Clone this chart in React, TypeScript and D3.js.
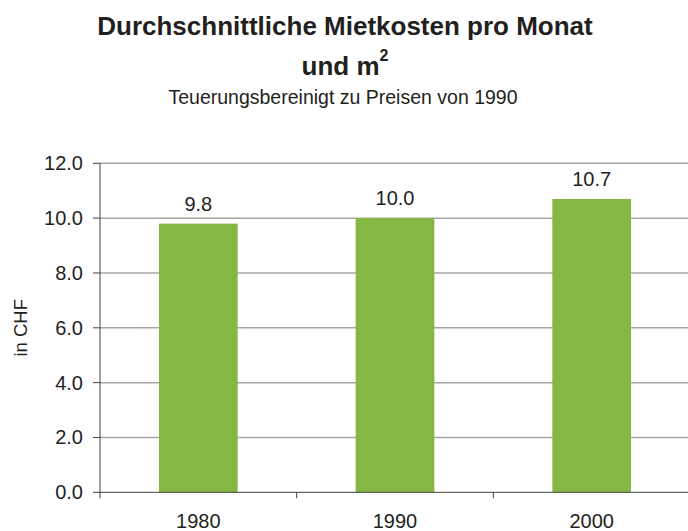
import React from "react";
import * as d3 from "d3";

const categories = ["1980", "1990", "2000"];
const values = [9.8, 10.0, 10.7];
const yTicks = [0, 2, 4, 6, 8, 10, 12];

const W = 688;
const H = 531;
const M = { left: 100, right: 690, top: 163.3, bottom: 492.3 };
const FONT = "'Liberation Sans', Arial, Helvetica, sans-serif";
const TEXT = "#231f20";

export default function App() {
  const x = d3
    .scaleBand<string>()
    .domain(categories)
    .range([M.left, M.right])
    .paddingInner(0.6)
    .paddingOuter(0.3);
  const y = d3.scaleLinear().domain([0, 12]).range([M.bottom, M.top]);
  const step = x.step();
  const boundaries = d3.range(categories.length + 1).map((i) => M.left + i * step);

  return (
    <svg
      width={W}
      height={H}
      style={{ position: "absolute", left: 0, top: 0, background: "#fff" }}
      fontFamily={FONT}
    >
      <rect x={0} y={0} width={W} height={H} fill="#fff" />
      {/* Titles */}
      <text x={345} y={35} textAnchor="middle" fontSize={26} fontWeight="bold" fill={TEXT}>
        Durchschnittliche Mietkosten pro Monat
      </text>
      <text x={345} y={75} textAnchor="middle" fontSize={26} fontWeight="bold" fill={TEXT}>
        und m
        <tspan fontSize={16} dy={-14}>2</tspan>
      </text>
      <text x={343} y={104} textAnchor="middle" fontSize={19.5} fill={TEXT}>
        Teuerungsbereinigt zu Preisen von 1990
      </text>

      {/* Gridlines */}
      {yTicks
        .filter((t) => t > 0)
        .map((t) => (
          <line
            key={"g" + t}
            x1={M.left}
            x2={W}
            y1={y(t)}
            y2={y(t)}
            stroke="#a6a6a6"
            strokeWidth={1.5}
          />
        ))}

      {/* Bars */}
      {categories.map((c, i) => (
        <rect
          key={c}
          x={x(c)}
          y={y(values[i])}
          width={x.bandwidth()}
          height={M.bottom - y(values[i])}
          fill="#84b843"
        />
      ))}

      {/* Value labels */}
      {categories.map((c, i) => (
        <text
          key={"v" + c}
          x={(x(c) as number) + x.bandwidth() / 2}
          y={y(values[i]) - 13}
          textAnchor="middle"
          fontSize={20}
          fill={TEXT}
        >
          {values[i].toFixed(1)}
        </text>
      ))}

      {/* Axes */}
      <line x1={M.left} x2={M.left} y1={M.top} y2={M.bottom} stroke="#404040" strokeWidth={1} />
      <line x1={M.left} x2={W} y1={M.bottom} y2={M.bottom} stroke="#404040" strokeWidth={1} />
      {yTicks.map((t) => (
        <g key={"t" + t}>
          <line x1={M.left - 7} x2={M.left} y1={y(t)} y2={y(t)} stroke="#404040" />
          <text
            x={M.left - 17}
            y={y(t) + 7}
            textAnchor="end"
            fontSize={20}
            fill={TEXT}
          >
            {t.toFixed(1)}
          </text>
        </g>
      ))}
      {boundaries.map((b, i) => (
        <line key={"xb" + i} x1={b} x2={b} y1={M.bottom} y2={M.bottom + 6} stroke="#404040" />
      ))}
      {categories.map((c) => (
        <text
          key={"x" + c}
          x={(x(c) as number) + x.bandwidth() / 2}
          y={528}
          textAnchor="middle"
          fontSize={20}
          fill={TEXT}
        >
          {c}
        </text>
      ))}
      <text
        transform={`translate(27, ${(M.top + M.bottom) / 2}) rotate(-90)`}
        textAnchor="middle"
        fontSize={18.5}
        fill={TEXT}
      >
        in CHF
      </text>
    </svg>
  );
}
